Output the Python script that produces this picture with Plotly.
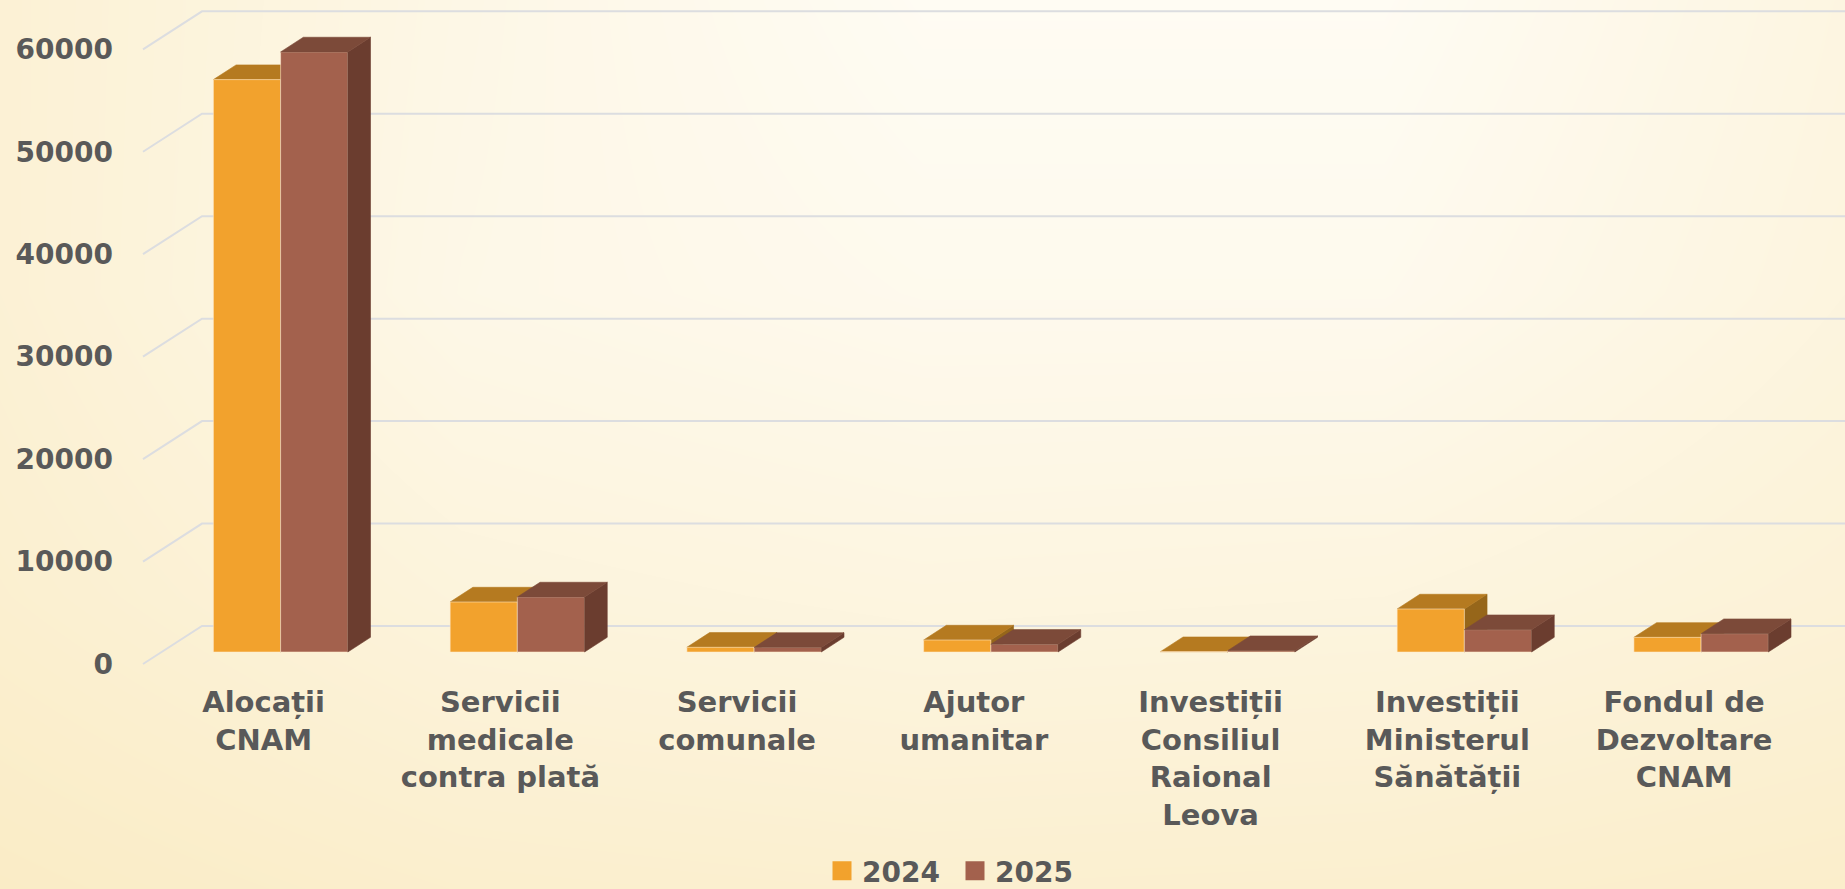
import plotly.graph_objects as go

categories = ["Alocații<br>CNAM", "Servicii<br>medicale<br>contra plată", "Servicii<br>comunale",
              "Ajutor<br>umanitar", "Investiții<br>Consiliul<br>Raional<br>Leova",
              "Investiții<br>Ministerul<br>Sănătății", "Fondul de<br>Dezvoltare<br>CNAM"]
values_2024 = [55870, 4880, 460, 1170, 30, 4200, 1430]
values_2025 = [58570, 5370, 450, 750, 130, 2180, 1790]
y_ticks = [0, 10000, 20000, 30000, 40000, 50000, 60000]

bg_x = [0, 0.25, 0.5, 0.75, 1]
bg_y = [0, 0.33, 0.67, 1]
bg_warmth = [
    [1.00, 0.85, 0.80, 0.82, 0.90],
    [0.80, 0.55, 0.47, 0.50, 0.65],
    [0.70, 0.32, 0.20, 0.20, 0.50],
    [0.70, 0.35, 0.08, 0.08, 0.45],
]

W, H = 1845, 889
PX_X = 236.75            # pixels per category
PX_Y = 0.010245          # pixels per value unit
X0, Y0 = 280.6, 652      # pixel of first group centre / bar base
LEFT, BOTTOM = 114, 682  # plot-area edges in pixels

x_range = [(LEFT - X0) / PX_X, (W - X0) / PX_X]
y_range = [-(BOTTOM - Y0) / PX_Y, Y0 / PX_Y]
dom_x = [LEFT / W, 1]
dom_y = [(H - BOTTOM) / H, 1]

BAR_W = 67.2 / PX_X
DX, DY = 22.7 / PX_X, 14.7 / PX_Y              # bar depth
W_FX, W_BX = (143 - X0) / PX_X, (202 - X0) / PX_X   # wall, front and back
W_FY, W_BY = -12 / PX_Y, 26 / PX_Y

FONT = "DejaVu Sans"
TXT = "#595959"
GRID = "#DCDDE0"


def faces(values, left_edge):
    """Top and side parallelograms of one series, from its values."""
    tx, ty, sx, sy = [], [], [], []
    for i, v in enumerate(values):
        a = i + left_edge
        b = a + BAR_W
        tx += [a, b, b + DX, a + DX, a, None]
        ty += [v, v, v + DY, v + DY, v, None]
        sx += [b, b + DX, b + DX, b, b, None]
        sy += [0, DY, v + DY, v, 0, None]
    return tx, ty, sx, sy


def poly(x, y, color, ax):
    return go.Scatter(x=x, y=y, mode="lines", fill="toself", fillcolor=color,
                      line=dict(color=color, width=0.6), hoverinfo="skip",
                      showlegend=False, xaxis="x" + ax, yaxis="y" + ax)


fig = go.Figure()

# background wash
fig.add_trace(go.Heatmap(x=bg_x, y=bg_y, z=bg_warmth, zsmooth="best", showscale=False,
                         zmin=0, zmax=1, hoverinfo="skip",
                         colorscale=[[0, "#FFFDF7"], [1, "#FAECC6"]], xaxis="x", yaxis="y"))

# gridlines and wall
gx, gy = [], []
for t in y_ticks:
    gx += [W_FX, W_BX, x_range[1], None]
    gy += [t + W_FY, t + W_BY, t + W_BY, None]
fig.add_trace(go.Scatter(x=gx, y=gy, mode="lines", line=dict(color=GRID, width=2),
                         hoverinfo="skip", showlegend=False, xaxis="x2", yaxis="y2"))

# 2024 depth faces sit behind all the front faces
tx, ty, sx, sy = faces(values_2024, -BAR_W)
fig.add_trace(poly(sx, sy, "#96661A", "2"))
fig.add_trace(poly(tx, ty, "#B57A20", "2"))

# front faces
edge = dict(color="rgba(255,235,205,0.55)", width=1)
fig.add_trace(go.Bar(x=list(range(7)), y=values_2024, name="2024", marker=dict(color="#F2A22D", line=edge),
                     showlegend=False, xaxis="x3", yaxis="y3"))
fig.add_trace(go.Bar(x=list(range(7)), y=values_2025, name="2025", marker=dict(color="#A3614D", line=edge),
                     showlegend=False, xaxis="x3", yaxis="y3"))

tx, ty, sx, sy = faces(values_2025, 0)
fig.add_trace(poly(sx, sy, "#6B3D2F", "3"))
fig.add_trace(poly(tx, ty, "#7C4A39", "3"))

# legend entries
for name, col in (("2024", "#F2A22D"), ("2025", "#A3614D")):
    fig.add_trace(go.Scatter(x=[None], y=[None], mode="markers", name=name,
                             marker=dict(symbol="square", size=16, color=col, line=dict(color=col, width=3)),
                             xaxis="x3", yaxis="y3"))

hidden = dict(visible=False, fixedrange=True)
fig.update_layout(
    width=W, height=H, autosize=False,
    margin=dict(l=0, r=0, t=0, b=0, autoexpand=False),
    paper_bgcolor="#FDF6E3", plot_bgcolor="rgba(0,0,0,0)",
    barmode="group", bargap=1 - 2 * BAR_W, bargroupgap=0,
    font=dict(family=FONT, color=TXT),
    xaxis=dict(domain=[0, 1], range=[0, 1], **hidden),
    yaxis=dict(domain=[0, 1], range=[0, 1], **hidden),
    xaxis2=dict(domain=dom_x, range=x_range, anchor="y2", **hidden),
    yaxis2=dict(domain=dom_y, range=y_range, anchor="x2", **hidden),
    xaxis3=dict(domain=dom_x, range=x_range, anchor="y3", showgrid=False, zeroline=False, showline=False,
                tickmode="array", tickvals=[i - 17 / PX_X for i in range(7)], ticktext=categories,
                tickangle=0, ticks="", tickfont=dict(family=FONT, size=29, color=TXT, weight="bold")),
    yaxis3=dict(domain=dom_y, range=y_range, anchor="x3", showgrid=False, zeroline=False, showline=False,
                tickmode="array", tickvals=[t + W_FY for t in y_ticks], ticktext=[str(t) for t in y_ticks],
                ticks="", tickfont=dict(family=FONT, size=28, color=TXT, weight="bold")),
    legend=dict(orientation="h", x=822 / W, xanchor="left", y=-0.008, yanchor="bottom",
                entrywidth=88, entrywidthmode="pixels",
                bgcolor="rgba(0,0,0,0)", font=dict(family=FONT, size=28, color=TXT, weight="bold")),
)

fig.write_html("out.html", config=dict(displayModeBar=False),
               post_script="document.body.style.margin='0';")
